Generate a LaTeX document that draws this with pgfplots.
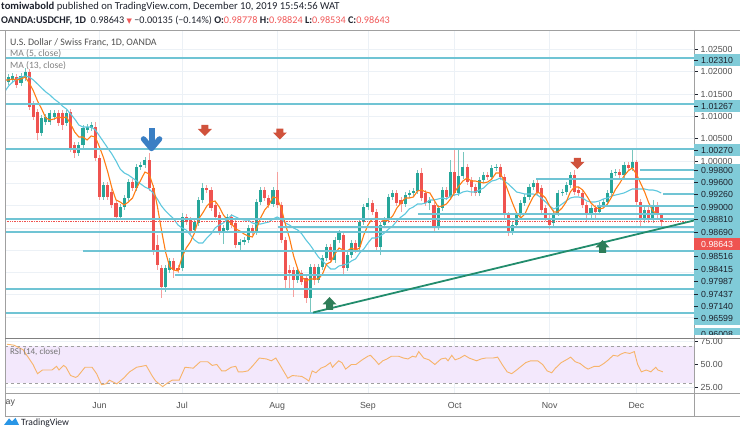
\documentclass[border=0pt]{standalone}
\usepackage{pgfplots}
\pgfplotsset{compat=1.18}
\usepackage{pgfplotstable}
\usepackage{fontspec}
\setmainfont{Liberation Sans}
\newfontfamily\hdr{Carlito}
\newfontfamily\sym{DejaVu Sans}
\definecolor{up}{RGB}{38,166,154}
\definecolor{dn}{RGB}{239,83,80}
\definecolor{upw}{RGB}{120,198,190}
\definecolor{dnw}{RGB}{245,160,158}
\definecolor{ma5}{RGB}{255,125,20}
\definecolor{ma13}{RGB}{95,200,222}
\definecolor{hl}{RGB}{112,196,212}
\definecolor{labcyan}{RGB}{128,203,216}
\definecolor{labtext}{RGB}{30,34,45}
\definecolor{trend}{RGB}{34,140,108}
\definecolor{grd}{RGB}{236,241,246}
\definecolor{band}{RGB}{243,232,252}
\definecolor{rsi}{RGB}{247,180,106}
\definecolor{redtxt}{RGB}{240,88,88}
\definecolor{framegray}{RGB}{160,160,160}
\definecolor{labgray}{RGB}{80,80,80}
\definecolor{bluearrow}{RGB}{58,127,196}
\definecolor{redarrow}{RGB}{208,82,60}
\definecolor{greenarrow}{RGB}{46,125,88}
\definecolor{tvblue}{RGB}{41,150,230}

\pgfdeclareplotmark{bluedown}{%
  \pgfpathrectangle{\pgfqpoint{-3pt}{-5pt}}{\pgfqpoint{6pt}{17pt}}\pgfusepathqfill
  \pgfsetlinewidth{5.5pt}\pgfsetroundcap\pgfsetroundjoin
  \pgfpathmoveto{\pgfqpoint{-8pt}{1pt}}\pgfpathlineto{\pgfqpoint{0pt}{-8.5pt}}%
  \pgfpathlineto{\pgfqpoint{8pt}{1pt}}\pgfusepathqstroke}
\pgfdeclareplotmark{reddown}{%
  \pgfpathmoveto{\pgfqpoint{-3.5pt}{5.5pt}}\pgfpathlineto{\pgfqpoint{3.5pt}{5.5pt}}%
  \pgfpathlineto{\pgfqpoint{3.5pt}{1.5pt}}\pgfpathlineto{\pgfqpoint{7pt}{1.5pt}}%
  \pgfpathlineto{\pgfqpoint{0pt}{-5.5pt}}\pgfpathlineto{\pgfqpoint{-7pt}{1.5pt}}%
  \pgfpathlineto{\pgfqpoint{-3.5pt}{1.5pt}}\pgfpathclose\pgfusepathqfill}
\pgfdeclareplotmark{greenup}{%
  \pgfpathmoveto{\pgfqpoint{-3.5pt}{-6.5pt}}\pgfpathlineto{\pgfqpoint{3.5pt}{-6.5pt}}%
  \pgfpathlineto{\pgfqpoint{3.5pt}{-1pt}}\pgfpathlineto{\pgfqpoint{7pt}{-1pt}}%
  \pgfpathlineto{\pgfqpoint{0pt}{6.5pt}}\pgfpathlineto{\pgfqpoint{-7pt}{-1pt}}%
  \pgfpathlineto{\pgfqpoint{-3.5pt}{-1pt}}\pgfpathclose\pgfusepathqfill}
\pgfdeclareplotmark{nothing}{}

\pgfplotstableread{
i o h l c m5 m13
0 1.01928 1.01996 1.01704 1.01771 1.01816 1.01547
1 1.01771 1.01951 1.01704 1.01883 1.01816 1.01682
2 1.01816 1.01973 1.01749 1.01906 1.01839 1.01771
3 1.01883 1.01951 1.01637 1.01704 1.01816 1.01839
4 1.01749 1.01973 1.01682 1.01906 1.01839 1.01883
5 1.01861 1.02085 1.01794 1.01996 1.01883 1.01906
6 1.01996 1.02063 1.01143 1.01211 1.01749 1.01883
7 1.01278 1.01345 1.00919 1.00987 1.01570 1.01816
8 1.01099 1.01166 1.00471 1.00628 1.01345 1.01726
9 1.00628 1.01031 1.00561 1.00964 1.01166 1.01637
10 1.00874 1.01054 1.00807 1.00987 1.00964 1.01547
11 1.00874 1.01143 1.00807 1.01076 1.00919 1.01480
12 1.00987 1.01143 1.00919 1.01076 1.00942 1.01390
13 1.01076 1.01143 1.00785 1.00852 1.00987 1.01323
14 1.01076 1.01143 1.00695 1.00807 1.00964 1.01233
15 1.00852 1.01143 1.00785 1.01076 1.00987 1.01166
16 1.01099 1.01166 1.00202 1.00291 1.00830 1.01054
17 1.00359 1.00426 1.00067 1.00179 1.00650 1.00942
18 1.00179 1.00426 1.00112 1.00359 1.00538 1.00807
19 1.00359 1.00807 1.00291 1.00740 1.00538 1.00762
20 1.00695 1.00830 1.00628 1.00762 1.00471 1.00762
21 1.00740 1.00874 1.00673 1.00807 1.00561 1.00762
22 1.00762 1.00874 1.00000 1.00067 1.00538 1.00695
23 1.00067 1.00135 0.99126 0.99193 1.00314 1.00561
24 0.99193 0.99529 0.99126 0.99462 1.00067 1.00426
25 0.99462 0.99529 0.99126 0.99193 0.99753 1.00291
26 0.99305 0.99372 0.98946 0.99013 0.99395 1.00157
27 0.99058 0.99126 0.98677 0.98744 0.99126 1.00000
28 0.98744 0.99036 0.98677 0.98969 0.99081 0.99821
29 0.98969 0.99238 0.98901 0.99170 0.99013 0.99731
30 0.99170 0.99596 0.99103 0.99529 0.99081 0.99686
31 0.99529 0.99596 0.99327 0.99395 0.99170 0.99619
32 0.99395 0.99933 0.99327 0.99865 0.99395 0.99552
33 0.99865 0.99978 0.99798 0.99910 0.99574 0.99484
34 0.99910 1.00090 0.99843 1.00022 0.99753 0.99417
35 1.00022 1.00179 0.99327 0.99395 0.99709 0.99372
36 0.99395 0.99462 0.97892 0.97960 0.99439 0.99283
37 0.98117 0.98341 0.97556 0.97668 0.98991 0.99148
38 0.97601 0.97668 0.96928 0.97175 0.98453 0.98991
39 0.97175 0.97668 0.97063 0.97601 0.97960 0.98879
40 0.97556 0.97825 0.97489 0.97758 0.97623 0.98789
41 0.97758 0.97825 0.97377 0.97556 0.97556 0.98700
42 0.97601 0.97668 0.97489 0.97556 0.97534 0.98565
43 0.97601 0.98834 0.97534 0.98744 0.97848 0.98498
44 0.98744 0.98812 0.98565 0.98632 0.98049 0.98453
45 0.98677 0.98744 0.98341 0.98408 0.98184 0.98341
46 0.98453 0.98700 0.98386 0.98632 0.98386 0.98229
47 0.98610 0.99193 0.98543 0.99126 0.98700 0.98161
48 0.99126 0.99507 0.99058 0.99395 0.98834 0.98161
49 0.99395 0.99462 0.99283 0.99350 0.98991 0.98274
50 0.99350 0.99417 0.98879 0.98946 0.99081 0.98363
51 0.99013 0.99081 0.98677 0.98744 0.99103 0.98498
52 0.98789 0.98857 0.98341 0.98408 0.98969 0.98565
53 0.98408 0.98565 0.98139 0.98498 0.98789 0.98610
54 0.98453 0.98812 0.98386 0.98744 0.98677 0.98700
55 0.98744 0.98812 0.98498 0.98565 0.98587 0.98789
56 0.98610 0.98677 0.98049 0.98117 0.98475 0.98744
57 0.98117 0.98251 0.98004 0.98184 0.98430 0.98700
58 0.98184 0.98296 0.98117 0.98229 0.98363 0.98677
59 0.98229 0.98565 0.98161 0.98498 0.98318 0.98677
60 0.98498 0.98565 0.98341 0.98408 0.98296 0.98610
61 0.98408 0.99148 0.98341 0.99081 0.98475 0.98587
62 0.99081 0.99417 0.99013 0.99350 0.98722 0.98587
63 0.99350 0.99417 0.99103 0.99170 0.98901 0.98610
64 0.99170 0.99238 0.98946 0.99013 0.99013 0.98632
65 0.99036 0.99417 0.98969 0.99350 0.99193 0.98700
66 0.99350 0.99753 0.98946 0.99013 0.99170 0.98744
67 0.99013 0.99081 0.98161 0.98229 0.98946 0.98700
68 0.98229 0.98296 0.97152 0.97332 0.98587 0.98610
69 0.97556 0.97668 0.97108 0.97489 0.98274 0.98565
70 0.97556 0.97623 0.96951 0.97332 0.97870 0.98498
71 0.97332 0.97623 0.97265 0.97556 0.97578 0.98453
72 0.97489 0.97556 0.97220 0.97287 0.97399 0.98363
73 0.97377 0.97444 0.96816 0.96928 0.97309 0.98229
74 0.96928 0.97691 0.96614 0.97623 0.97354 0.98117
75 0.97623 0.97691 0.97220 0.97332 0.97354 0.97982
76 0.97332 0.97691 0.97265 0.97623 0.97354 0.97848
77 0.97623 0.97892 0.97556 0.97825 0.97466 0.97758
78 0.97825 0.98139 0.97758 0.98072 0.97691 0.97668
79 0.98072 0.98139 0.97713 0.97780 0.97735 0.97578
80 0.97780 0.98296 0.97713 0.98229 0.97915 0.97578
81 0.98229 0.98453 0.98161 0.98386 0.98049 0.97646
82 0.98341 0.98408 0.97444 0.97601 0.98004 0.97668
83 0.97601 0.97960 0.97534 0.97892 0.97982 0.97691
84 0.97892 0.98229 0.97825 0.98161 0.98049 0.97758
85 0.98161 0.98229 0.97937 0.98004 0.98004 0.97803
86 0.98072 0.98700 0.98004 0.98632 0.98049 0.97937
87 0.98632 0.99036 0.98565 0.98969 0.98341 0.98027
88 0.98969 0.99170 0.98901 0.99058 0.98565 0.98161
89 0.99058 0.99126 0.98789 0.98857 0.98700 0.98274
90 0.98857 0.98924 0.97960 0.98072 0.98722 0.98274
91 0.98072 0.98632 0.97892 0.98565 0.98700 0.98318
92 0.98565 0.98744 0.98498 0.98677 0.98655 0.98386
93 0.98677 0.99260 0.98610 0.99193 0.98677 0.98475
94 0.99193 0.99350 0.99126 0.99283 0.98767 0.98543
95 0.99283 0.99350 0.98991 0.99058 0.98946 0.98655
96 0.99126 0.99193 0.98857 0.99036 0.99058 0.98744
97 0.99036 0.99305 0.98969 0.99238 0.99170 0.98812
98 0.99238 0.99350 0.99170 0.99283 0.99170 0.98924
99 0.99283 0.99395 0.99215 0.99327 0.99193 0.98969
100 0.99327 0.99798 0.99260 0.99731 0.99327 0.99036
101 0.99731 0.99843 0.99103 0.99170 0.99350 0.99036
102 0.99283 0.99350 0.98991 0.99058 0.99305 0.99058
103 0.99058 0.99193 0.98901 0.99126 0.99283 0.99126
104 0.99013 0.99081 0.98408 0.98520 0.99126 0.99126
105 0.98520 0.99013 0.98453 0.98946 0.98969 0.99148
106 0.98946 0.99417 0.98879 0.99350 0.98991 0.99170
107 0.99350 0.99417 0.99126 0.99193 0.99036 0.99148
108 0.99193 1.00022 0.99126 0.99753 0.99148 0.99215
109 0.99753 1.00247 0.99215 0.99283 0.99305 0.99238
110 0.99283 1.00247 0.99215 0.99664 0.99439 0.99260
111 0.99664 1.00202 0.99596 0.99865 0.99552 0.99305
112 0.99865 0.99933 0.99462 0.99529 0.99619 0.99327
113 0.99574 0.99641 0.99215 0.99417 0.99552 0.99305
114 0.99417 0.99484 0.99215 0.99283 0.99552 0.99305
115 0.99283 0.99641 0.99215 0.99574 0.99529 0.99350
116 0.99574 0.99753 0.99507 0.99686 0.99507 0.99395
117 0.99686 0.99753 0.99574 0.99641 0.99529 0.99484
118 0.99641 0.99910 0.99574 0.99843 0.99596 0.99552
119 0.99843 0.99933 0.99776 0.99865 0.99731 0.99574
120 0.99865 0.99933 0.99574 0.99641 0.99731 0.99619
121 0.99641 0.99709 0.98722 0.98789 0.99552 0.99552
122 0.98789 0.98857 0.98318 0.98408 0.99305 0.99484
123 0.98408 0.98632 0.98341 0.98565 0.99058 0.99395
124 0.98565 0.98857 0.98498 0.98789 0.98834 0.99305
125 0.98789 0.99126 0.98722 0.99058 0.98722 0.99283
126 0.99058 0.99260 0.98991 0.99193 0.98812 0.99260
127 0.99193 0.99484 0.99126 0.99417 0.99013 0.99260
128 0.99417 0.99574 0.99350 0.99507 0.99193 0.99260
129 0.99507 0.99574 0.99238 0.99305 0.99305 0.99238
130 0.99395 0.99462 0.98834 0.98901 0.99260 0.99170
131 0.98946 0.99013 0.98655 0.98722 0.99170 0.99081
132 0.98722 0.98789 0.98475 0.98565 0.98991 0.98991
133 0.98610 0.98901 0.98543 0.98834 0.98857 0.98924
134 0.98834 0.99350 0.98767 0.99283 0.98857 0.98969
135 0.99283 0.99372 0.99215 0.99305 0.98946 0.99036
136 0.99305 0.99529 0.99238 0.99462 0.99081 0.99103
137 0.99462 0.99753 0.99395 0.99686 0.99305 0.99170
138 0.99686 0.99798 0.99238 0.99305 0.99417 0.99193
139 0.99350 0.99417 0.99215 0.99283 0.99417 0.99193
140 0.99283 0.99350 0.98946 0.99013 0.99350 0.99170
141 0.99013 0.99081 0.98632 0.98789 0.99215 0.99103
142 0.98789 0.99013 0.98722 0.98946 0.99058 0.99081
143 0.98946 0.99013 0.98677 0.98857 0.98969 0.99081
144 0.98857 0.99081 0.98789 0.99013 0.98924 0.99103
145 0.99013 0.99148 0.98946 0.99081 0.98946 0.99148
146 0.99081 0.99350 0.99013 0.99283 0.99036 0.99170
147 0.99283 0.99798 0.99215 0.99731 0.99193 0.99215
148 0.99731 0.99821 0.99664 0.99753 0.99372 0.99238
149 0.99753 0.99821 0.99619 0.99686 0.99507 0.99260
150 0.99686 0.99978 0.99619 0.99910 0.99664 0.99283
151 0.99910 0.99978 0.99776 0.99843 0.99776 0.99327
152 0.99843 1.00269 0.99776 0.99978 0.99843 0.99372
153 0.99978 1.00022 0.99013 0.99081 0.99709 0.99372
154 0.99081 0.99148 0.98543 0.98677 0.99507 0.99372
155 0.98677 0.98969 0.98610 0.98901 0.99305 0.99372
156 0.98901 0.98969 0.98610 0.98677 0.99058 0.99350
157 0.98677 0.99126 0.98610 0.99013 0.98879 0.99350
158 0.99013 0.99081 0.98700 0.98778 0.98812 0.99327
159 0.98778 0.98824 0.98534 0.98643 0.98812 0.99283
}\candles

\tikzset{plab/.style={anchor=west, fill=labcyan, inner xsep=0pt, inner ysep=0pt,
  minimum height=12.6pt, text width=46pt, align=left,
  font=\fontsize{8.8}{10}\selectfont, text=labtext}}
\newcommand\plab[3][labcyan]{%
  \node[plab, fill=#1] at (694pt,#2pt) {\hspace*{7pt}#3};
  \draw[labtext, line width=0.6pt] (694pt,#2pt) -- (697.5pt,#2pt);}
\pgfplotsset{candle/.style={only marks, mark=nothing,
  error bars/y dir=plus, error bars/y explicit, error bars/error mark=none}}

\begin{document}
\begin{tikzpicture}
\path[use as bounding box] (0,0) rectangle (740pt,437pt);

% ---------------- main price pane ----------------
\begin{axis}[
  at={(5pt,98.5pt)}, anchor=south west, scale only axis,
  width=689pt, height=308.5pt,
  xmin=0.12, xmax=166.95, ymin=0.96020, ymax=1.02937,
  axis line style={draw=none}, clip mode=individual,
  xtick={23,43,66,88,109,132,153}, xticklabels={}, xtick style={draw=none},
  ytick={0.965,0.97,0.975,0.98,0.985,0.99,0.995,1.0,1.005,1.01,1.015,1.02,1.025},
  yticklabels={,,,,,,,1.00000,1.00500,1.01000,1.01500,1.02000,1.02500},
  ytick pos=right, tick align=outside, major tick length=3.5pt,
  ytick style={color=labtext, line width=0.6pt},
  yticklabel style={font=\fontsize{8.8}{10}\selectfont, text=labgray, anchor=west, inner sep=0pt, xshift=3pt},
  grid=major, major grid style={color=grd, line width=0.7pt},
]
% wicks
\addplot[candle, restrict expr to domain={\thisrow{c}-\thisrow{o}}{0:1},
  error bars/error bar style={line width=0.8pt, color=upw}]
  table[x=i, y=l, y error expr=\thisrow{h}-\thisrow{l}] {\candles};
\addplot[candle, restrict expr to domain={\thisrow{o}-\thisrow{c}}{0.000001:1},
  error bars/error bar style={line width=0.8pt, color=dnw}]
  table[x=i, y=l, y error expr=\thisrow{h}-\thisrow{l}] {\candles};
% bodies
\addplot[candle, restrict expr to domain={\thisrow{c}-\thisrow{o}}{0:1},
  error bars/error bar style={line width=3.1pt, color=up}]
  table[x=i, y=o, y error expr=\thisrow{c}-\thisrow{o}] {\candles};
\addplot[candle, restrict expr to domain={\thisrow{o}-\thisrow{c}}{0.000001:1},
  error bars/error bar style={line width=3.1pt, color=dn}]
  table[x=i, y=c, y error expr=\thisrow{o}-\thisrow{c}] {\candles};
% moving averages
\addplot[ma13, line width=1.1pt] table[x=i, y=m13] {\candles};
\addplot[ma5, line width=1.1pt] table[x=i, y=m5] {\candles};
% horizontal levels
\addplot[hl, line width=2pt] coordinates {(0.12,1.02310) (166.95,1.02310)};
\addplot[hl, line width=2pt] coordinates {(0.12,1.01267) (166.95,1.01267)};
\addplot[hl, line width=2pt] coordinates {(0.12,1.00270) (166.95,1.00270)};
\addplot[hl, line width=2pt] coordinates {(153.9,0.99800) (166.95,0.99800)};
\addplot[hl, line width=2pt] coordinates {(128.7,0.99600) (166.95,0.99600)};
\addplot[hl, line width=2pt] coordinates {(159.5,0.99260) (166.95,0.99260)};
\addplot[hl, line width=2pt] coordinates {(143.5,0.99000) (166.95,0.99000)};
\addplot[hl, line width=2pt] coordinates {(100.1,0.98810) (166.95,0.98810)};
\addplot[hl, line width=2pt] coordinates {(0.12,0.98690) (166.95,0.98690)};
\addplot[hl, line width=2pt] coordinates {(66.2,0.98516) (166.95,0.98516)};
\addplot[hl, line width=2pt] coordinates {(0.12,0.98415) (166.95,0.98415)};
\addplot[hl, line width=2pt] coordinates {(19.0,0.97987) (166.95,0.97987)};
\addplot[hl, line width=2pt] coordinates {(41.3,0.97437) (166.95,0.97437)};
\addplot[hl, line width=2pt] coordinates {(0.12,0.97140) (166.95,0.97140)};
\addplot[hl, line width=2pt] coordinates {(0.12,0.96599) (166.95,0.96599)};
\addplot[dn, densely dotted, line width=0.7pt] coordinates {(0.12,0.98643) (166.95,0.98643)};
% trend line
\addplot[trend, line width=1.8pt] coordinates {(74.7,0.96603) (166.95,0.98666)};
% arrows
\addplot[only marks, mark=bluedown, color=bluearrow] coordinates {(35.6,1.00471)};
\addplot[only marks, mark=reddown, color=redarrow] coordinates {(48.5,1.00684) (66.7,1.00605) (138.7,0.99944)};
\addplot[only marks, mark=greenup, color=greenarrow] coordinates {(78.7,0.96805) (144.8,0.98083)};
\end{axis}

% ---------------- RSI pane ----------------
\begin{axis}[
  at={(5pt,44pt)}, anchor=south west, scale only axis,
  width=689pt, height=54pt,
  xmin=0.12, xmax=166.95, ymin=19.0, ymax=77.7,
  axis line style={draw=none}, clip mode=individual,
  xtick={23,43,66,88,109,132,153}, xticklabels={Jun,Jul,Aug,Sep,Oct,Nov,Dec},
  xtick style={draw=none},
  xticklabel style={font=\fontsize{8.8}{10}\selectfont, text=labgray, anchor=base, yshift=-11.5pt},
  ytick={25,50,75}, yticklabels={25.00,50.00,75.00},
  ytick pos=right, tick align=outside, major tick length=3.5pt,
  ytick style={color=labtext, line width=0.6pt},
  yticklabel style={font=\fontsize{8.8}{10}\selectfont, text=labgray, anchor=west, inner sep=0pt, xshift=3pt},
  grid=major, major grid style={color=grd, line width=0.7pt},
]
\addplot[fill=band, draw=none] coordinates {(0.12,30) (166.95,30) (166.95,70) (0.12,70)} -- cycle;
\addplot[framegray, dashed, line width=0.6pt] coordinates {(0.12,70) (166.95,70)};
\addplot[framegray, dashed, line width=0.6pt] coordinates {(0.12,30) (166.95,30)};
\addplot[rsi, line width=0.9pt] coordinates {
(0.6,72) (2.3,71) (4.5,66) (6.9,50) (8.0,40) (9.2,44) (11.5,44) (12.6,48) (13.2,44)
(14.3,49) (14.9,47) (16.0,38) (17.2,36) (17.7,37) (19.5,47) (21.2,47) (22.3,40)
(23.5,28) (24.6,29) (25.4,33) (27.2,29) (28.8,35) (30.3,42) (32.0,47) (33.2,48)
(34.3,49) (35.7,38) (36.6,32) (38.3,26) (39.5,30) (40.6,33) (42.3,33) (43.7,47)
(45.7,46) (47.4,53) (49.2,53) (50.3,49) (51.4,50) (52.6,43) (53.5,43) (54.9,47)
(56.0,48) (56.6,42) (57.7,42) (58.9,43) (60.0,48) (61.7,57) (63.4,56) (64.6,54)
(65.7,57) (66.9,48) (68.6,35) (69.7,38) (72.0,37) (73.1,34) (73.7,32) (74.5,43)
(75.4,41) (76.6,46) (77.7,48) (78.9,52) (79.4,47) (80.9,54) (81.7,52) (82.6,45)
(84.0,50) (85.1,50) (86.6,55) (88.0,59) (88.6,60) (89.7,55) (90.6,50) (91.6,54)
(92.6,56) (93.7,59) (95.4,59) (96.6,57) (97.7,56) (98.8,59) (99.6,58) (100.3,64)
(101.5,57) (102.8,55) (104.2,50) (105.7,56) (106.8,57) (107.4,54) (108.3,60)
(109.1,55) (110.3,57) (111.4,60) (112.5,57) (114.3,54) (115.4,56) (116.5,57)
(118.3,57) (119.4,58) (120.5,50) (121.7,42) (122.8,40) (124.0,44) (125.1,48)
(126.2,52) (127.4,54) (129.1,54) (130.3,50) (131.4,43) (132.5,41) (133.4,46)
(134.8,52) (136.0,55) (137.1,58) (138.2,53) (139.4,51) (140.5,47) (141.3,45)
(142.8,48) (144.0,48) (145.1,51) (146.2,55) (147.4,60) (148.5,59) (149.1,61)
(150.2,63) (151.4,62) (152.5,64) (153.3,50) (154.2,42) (155.4,44) (156.5,42)
(157.7,47) (158.2,44) (159.4,42)};
\end{axis}

% ---------------- frame ----------------
\draw[framegray, line width=0.8pt] (0pt,407pt) -- (740pt,407pt);
\draw[framegray, line width=0.8pt] (5pt,407pt) -- (5pt,21pt);
\draw[framegray, line width=0.8pt] (694pt,407pt) -- (694pt,21pt);
\draw[framegray, line width=0.8pt] (5pt,44pt) -- (740pt,44pt);
\draw[framegray, line width=0.8pt] (5pt,21pt) -- (740pt,21pt);

% ---------------- price labels ----------------
\plab{377}{1.02310}
\plab{331}{1.01267}
\plab{287}{1.00270}
\plab{266.3}{0.99800}
\plab{254.5}{0.99600}
\plab{242.2}{0.99260}
\plab{230}{0.99000}
\plab{217.5}{0.98810}
\plab{205}{0.98690}
\plab{180.5}{0.98516}
\plab{168}{0.98415}
\plab{155.5}{0.97987}
\plab{143}{0.97437}
\plab{130.5}{0.97140}
\plab{118.5}{0.96599}
\node[plab, fill=dn, text=white] at (694pt,193pt) {\hspace*{7pt}0.98643};
\begin{scope}
\clip (694pt,102pt) rectangle (740pt,110pt);
\node[plab] at (694pt,103pt) {\hspace*{7pt}0.96008};
\end{scope}
\draw[framegray!80!black, line width=1.2pt] (5pt,98.5pt) -- (740pt,98.5pt);

% ---------------- texts ----------------
\node[anchor=base west, inner sep=0pt] at (1pt,427pt)
  {\hdr\fontsize{10.6}{12}\selectfont\color{labtext}\textbf{tomiwabold} published on TradingView.com, December 10, 2019 15:54:56 WAT};
\node[anchor=base west, inner sep=0pt] at (1pt,413.5pt)
  {\hdr\fontsize{10.2}{12}\selectfont\color{labtext}\textbf{OANDA:USDCHF, 1D}\ \ 0.98643 {\sym\fontsize{7}{8}\selectfont\color{redtxt}▼} −0.00135 (−0.14\%) \textbf{O:}{\color{redtxt}0.98778} \textbf{H:}{\color{redtxt}0.98824} \textbf{L:}{\color{redtxt}0.98534} \textbf{C:}{\color{redtxt}0.98643}};
\node[anchor=base west, inner sep=0pt] at (10pt,391.5pt)
  {\hdr\fontsize{9.9}{11}\selectfont\color{labgray}U.S. Dollar / Swiss Franc, 1D, OANDA};
\node[anchor=base west, inner sep=0pt] at (10pt,380pt)
  {\hdr\fontsize{9.6}{11}\selectfont\color{black!50}MA (5, close)};
\node[anchor=base west, inner sep=0pt] at (10pt,368pt)
  {\hdr\fontsize{9.6}{11}\selectfont\color{black!50}MA (13, close)};
\node[anchor=base west, inner sep=0pt] at (10pt,82pt)
  {\hdr\fontsize{9}{11}\selectfont\color{black!55}RSI (14, close)};
\node[anchor=base west, inner sep=0pt] at (5.5pt,32.5pt)
  {\fontsize{8.8}{10}\selectfont\color{labgray}ay};
% logo
\fill[tvblue] (4pt,12pt) -- (9pt,18.5pt) -- (12pt,15.5pt) -- (15.5pt,19pt) -- (19pt,12pt) -- cycle;
\node[anchor=base west, inner sep=0pt] at (21pt,12pt)
  {\hdr\fontsize{9.6}{11}\selectfont\color{labtext}TradingView};
\end{tikzpicture}
\end{document}
